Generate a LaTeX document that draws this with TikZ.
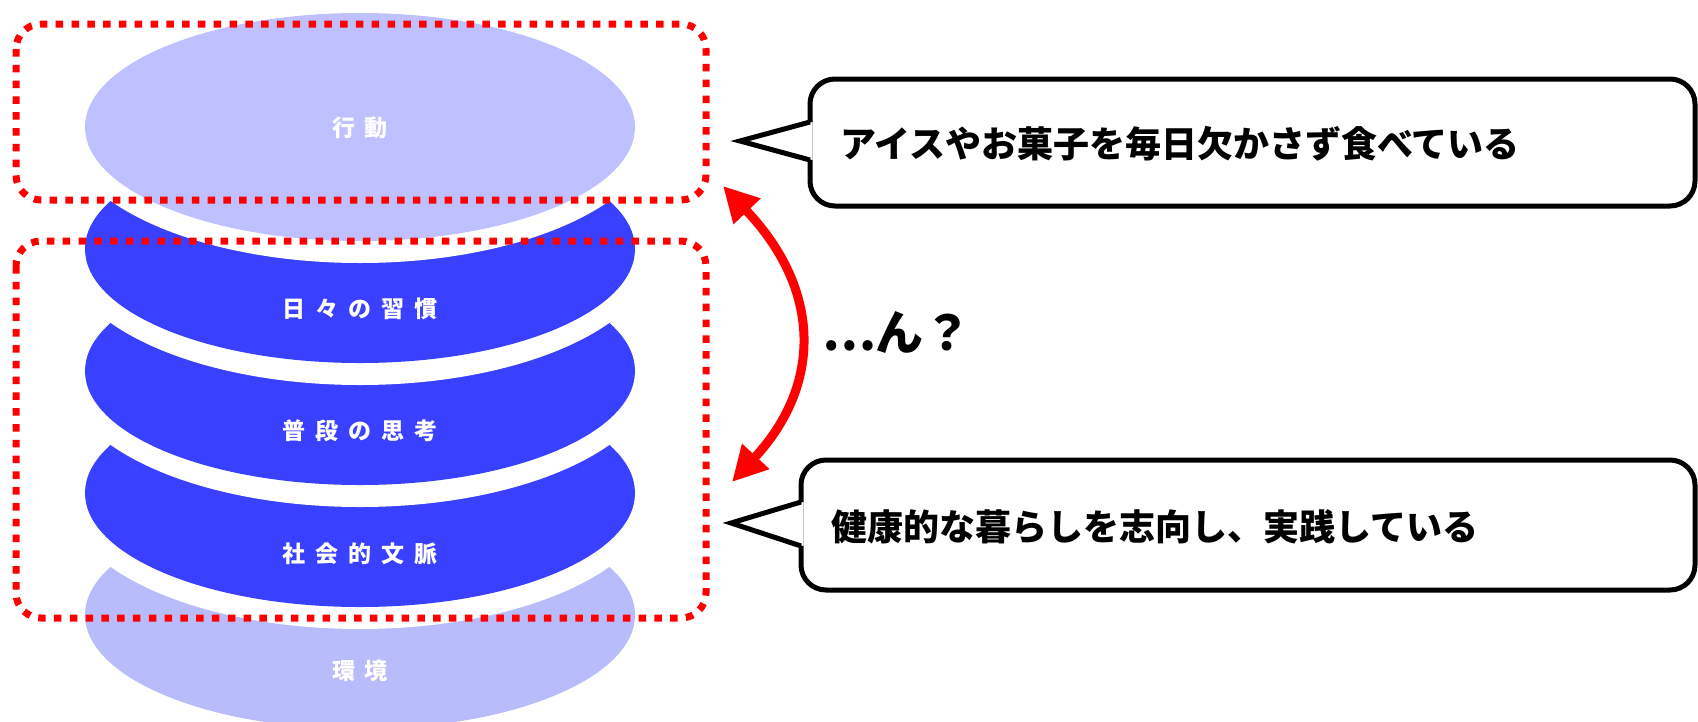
\documentclass[tikz,border=0pt]{standalone}
\usepackage{fontspec}
\newfontfamily\jp{Noto Sans CJK JP}
\usetikzlibrary{arrows.meta}
\definecolor{lavA}{RGB}{191,192,255}
\definecolor{lavB}{RGB}{185,188,250}
\definecolor{layblue}{RGB}{58,64,255}
\definecolor{dotred}{RGB}{255,0,0}
\newcommand{\ls}{\hspace{10pt}}
\begin{document}
\begin{tikzpicture}[x=1pt,y=-1pt,
  layerlabel/.style={text=white,font=\jp\bfseries\fontsize{23}{23}\selectfont,inner sep=0pt},
  groupbox/.style={draw=dotred,line width=7pt,dash pattern=on 7.5pt off 8.3pt,rounded corners=25pt},
  bubble/.style={draw=black,line width=5pt,fill=white,rounded corners=25pt},
  pointer/.style={draw=black,line width=5pt,line join=miter},
  bubbletext/.style={font=\jp\bfseries\fontsize{36}{36}\selectfont,inner sep=0pt,anchor=west},
  redarrow/.style={draw=dotred,line width=9pt,{Triangle[length=35pt,width=35pt]}-{Triangle[length=35pt,width=35pt]}},
]
\path[use as bounding box] (0,0) rectangle (1698,721);
\clip (0,0) rectangle (1698,721);

% stacked layers, bottom to top
\foreach \cy/\col in {615/lavB,493/layblue,371/layblue,249/layblue,127/lavA} {
  \fill[white] (360,\cy) ellipse [x radius=297, y radius=136];
  \fill[\col] (360,\cy) ellipse [x radius=275, y radius=114];
}

\node[layerlabel] (l1) at (360,128) {行\ls 動};
\node[layerlabel] (l2) at (360,309) {日\ls 々\ls の\ls 習\ls 慣};
\node[layerlabel] (l3) at (360,431) {普\ls 段\ls の\ls 思\ls 考};
\node[layerlabel] (l4) at (360,554) {社\ls 会\ls 的\ls 文\ls 脈};
\node[layerlabel] (l5) at (360,671) {環\ls 境};

% dotted group boxes
\draw[groupbox] (16,24) rectangle (706,200);
\draw[groupbox] (16,241) rectangle (706,618);

% speech bubble 1
\draw[bubble] (810,79) rectangle (1695,206);
\fill[white] (812.5,122) -- (740,141) -- (812.5,160) -- cycle;
\draw[pointer] (810,122) -- (740,141) -- (810,160);
\node[bubbletext] (b1) at (840,144) {アイスやお菓子を毎日欠かさず食べている};

% speech bubble 2
\draw[bubble] (801,460) rectangle (1695,590);
\fill[white] (803.5,502) -- (731,523) -- (803.5,546) -- cycle;
\draw[pointer] (801,502) -- (731,523) -- (801,546);
\node[bubbletext] (b2) at (831,527) {健康的な暮らしを志向し、実践している};

% double arrow
\coordinate (atop) at (723,186);
\coordinate (abot) at (732,482);
\draw[redarrow] (atop) .. controls (822,290) and (822,385) .. (abot);

\node[font=\jp\bfseries\fontsize{48}{48}\selectfont,inner sep=0pt] (q) at (897,332) {…ん？};
\end{tikzpicture}
\end{document}
